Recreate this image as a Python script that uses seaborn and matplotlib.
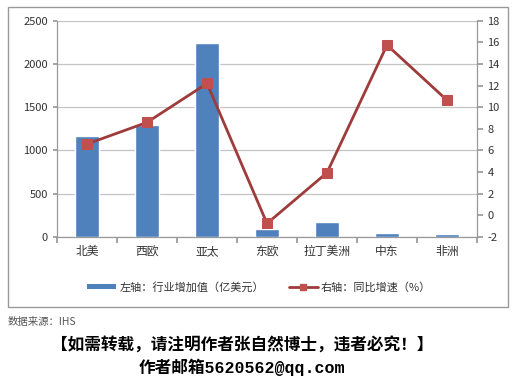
import numpy as np
import pandas as pd
import seaborn as sns
import matplotlib.pyplot as plt
from matplotlib.patches import Rectangle
from matplotlib.lines import Line2D
from matplotlib.patches import Patch

# data
regions = ['北美', '西欧', '亚太', '东欧', '拉丁美洲', '中东', '非洲']
value_added = [1170, 1300, 2240, 89, 178, 45, 31]     # 亿美元, left axis
growth = [6.6, 8.6, 12.2, -0.75, 3.95, 15.75, 10.65]  # %, right axis

sns.set_theme(style='white')
plt.rcParams['font.family'] = ['Noto Sans CJK SC', 'DejaVu Sans']
plt.rcParams['axes.unicode_minus'] = False

df = pd.DataFrame({'region': regions, 'value': value_added, 'growth': growth})

fig = plt.figure(figsize=(5.29, 3.84), dpi=100)
ax = fig.add_axes([0.1078, 0.3828, 0.7939, 0.5632])

# outer chart frame
fig.patches.append(Rectangle((8 / 529, 1 - 307 / 384), 500 / 529, 300 / 384,
                             transform=fig.transFigure, fill=False,
                             edgecolor='#9a9a9a', linewidth=1.0, zorder=0))

sns.barplot(data=df, x='region', y='value', color='#4F81BD', width=0.39,
            saturation=1, ax=ax, zorder=3)
ax.set_xlim(-0.5, 6.5)
ax.set_ylim(0, 2500)
ax.set_yticks(np.arange(0, 2501, 500))
ax.yaxis.grid(True, color='#c4c4c4', linewidth=0.9)
ax.set_axisbelow(True)
ax.set_xlabel('')
ax.set_ylabel('')
ax.set_xticks(np.arange(-0.5, 7, 1), minor=False)
ax.set_xticklabels([])
ax.set_xticks(range(7), minor=True)
ax.set_xticklabels(regions, minor=True)
ax.tick_params(axis='x', which='major', length=4, color='#999999', direction='out', bottom=True)
ax.tick_params(axis='x', which='minor', length=0, labelsize=8.5, labelcolor='#333333', pad=6)
ax.tick_params(axis='y', length=3, color='#999999', labelsize=8, labelcolor='#333333', left=True)
for s in ['top', 'right']:
    ax.spines[s].set_visible(False)
for s in ['left', 'bottom']:
    ax.spines[s].set_color('#999999')
    ax.spines[s].set_linewidth(0.9)

ax2 = ax.twinx()
sns.lineplot(x=np.arange(7), y=growth, ax=ax2, color='#9E3B3B', linewidth=2,
             marker='s', markersize=7, markerfacecolor='#C0504D',
             markeredgecolor='#C0504D', zorder=4)
ax2.set_ylim(-2, 18)
ax2.set_yticks(np.arange(-2, 19, 2))
ax2.tick_params(axis='y', length=4, color='#999999', labelsize=8, labelcolor='#333333', right=True)
for s in ['top', 'left', 'bottom']:
    ax2.spines[s].set_visible(False)
ax2.spines['right'].set_color('#999999')
ax2.spines['right'].set_linewidth(0.9)
ax2.set_xlim(-0.5, 6.5)

handles = [Patch(facecolor='#4F81BD', edgecolor='none'),
           Line2D([0], [0], color='#9E3B3B', linewidth=2, marker='s',
                  markersize=5, markerfacecolor='#C0504D', markeredgecolor='#C0504D')]
fig.legend(handles, ['左轴：行业增加值（亿美元）', '右轴：同比增速（%）'],
           loc='center', bbox_to_anchor=(0.49, 0.2526), ncol=2, frameon=False,
           fontsize=8, labelcolor='#333333', handlelength=2.6, handleheight=0.4,
           columnspacing=2.2, handletextpad=0.3)

fig.text(8 / 529, 1 - 322 / 384, '数据来源：IHS', fontsize=7.5, color='#555555',
         va='center', ha='left')
fig.text(242 / 529, 1 - 346 / 384, '【如需转载，请注明作者张自然博士，违者必究！】',
         fontsize=12, fontweight='bold', color='black', ha='center', va='center')
fig.text(242 / 529, 1 - 367 / 384, '作者邮箱5620562@qq.com',
         fontsize=12, fontweight='bold', color='black', ha='center', va='center',
         family=['Liberation Mono', 'Noto Sans CJK SC'])

fig.savefig('out.png', dpi=100)
